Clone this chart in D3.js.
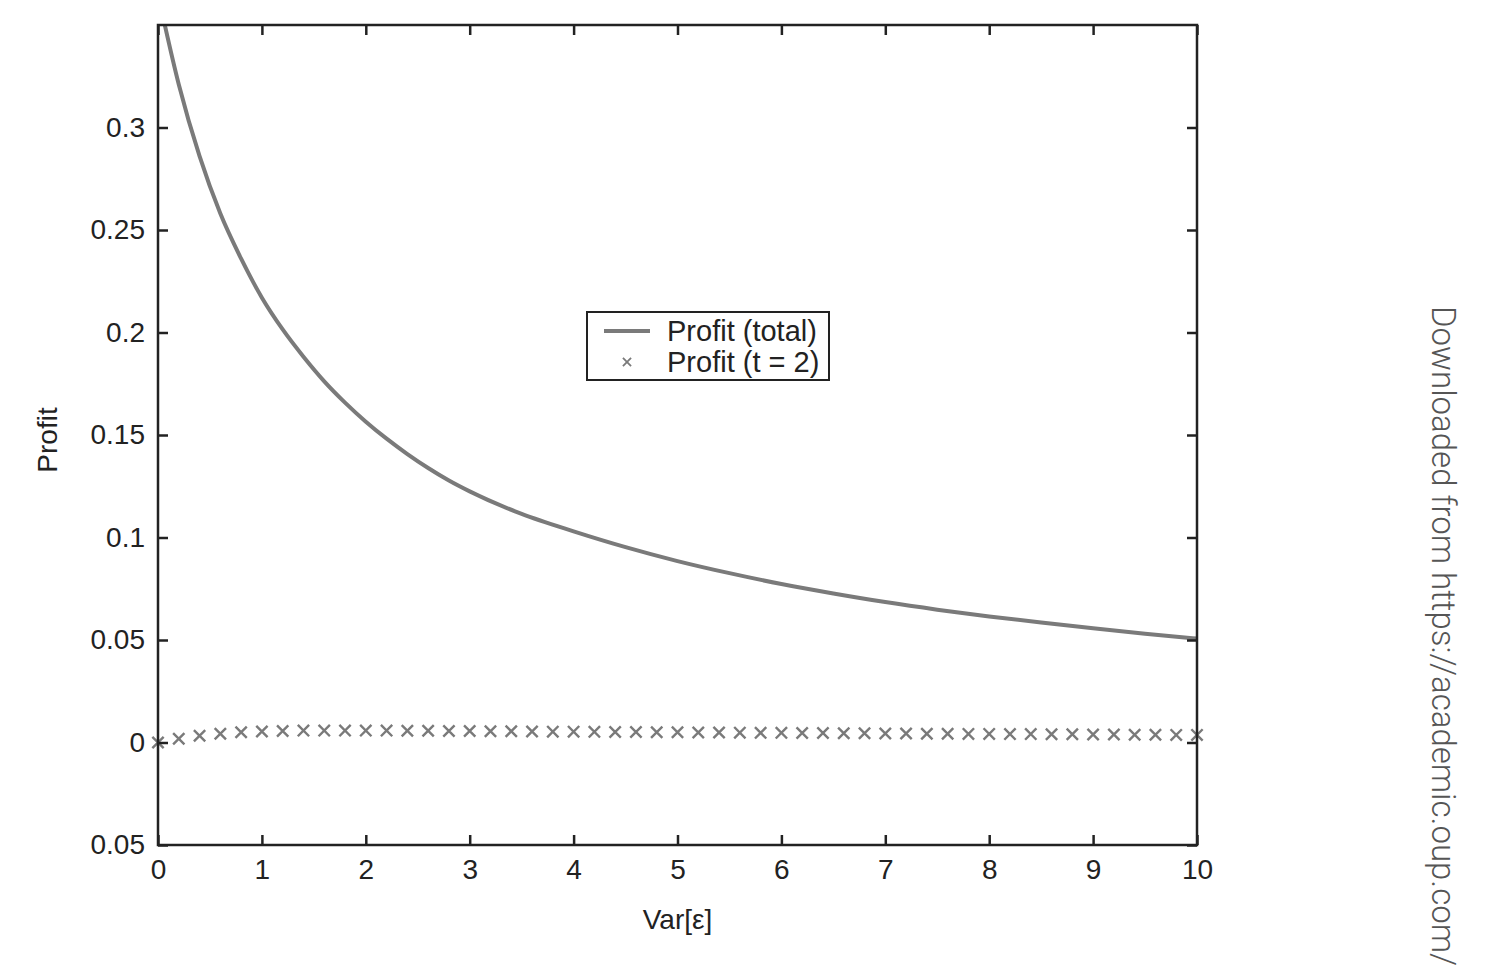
<!DOCTYPE html>
<html>
<head>
<meta charset="utf-8">
<script src="https://cdn.jsdelivr.net/npm/d3@7"></script>
<style>
  body { margin: 0; background: #fff; }
  svg { display: block; font-family: "Liberation Sans", Arial, sans-serif; }
</style>
</head>
<body>
<svg id="viz"></svg>
<script>
const width = 1493, height = 971;

// Profit (total) curve
const totalX = [0, 0.2, 0.4, 0.6, 0.8, 1.0, 1.2, 1.4, 1.6, 1.8, 2.0, 2.2, 2.4, 2.6, 2.8, 3.0,
                3.5, 4.0, 4.5, 5.0, 5.5, 6.0, 6.5, 7.0, 7.5, 8.0, 8.5, 9.0, 9.5, 10];
const totalY = [0.365, 0.321, 0.286, 0.258, 0.236, 0.217, 0.2015, 0.1882, 0.1762, 0.1658, 0.1565,
                0.1482, 0.1407, 0.1339, 0.1278, 0.1225, 0.1115, 0.1030, 0.0953, 0.0885, 0.0826,
                0.0773, 0.0727, 0.0685, 0.0648, 0.0615, 0.0585, 0.0557, 0.0531, 0.0507];

// Profit (t = 2) markers
const t2X = [0, 0.2, 0.4, 0.6, 0.8, 1.0, 1.2, 1.4, 1.6, 1.8, 2.0, 2.2, 2.4, 2.6, 2.8, 3.0,
             3.2, 3.4, 3.6, 3.8, 4.0, 4.2, 4.4, 4.6, 4.8, 5.0, 5.2, 5.4, 5.6, 5.8, 6.0,
             6.2, 6.4, 6.6, 6.8, 7.0, 7.2, 7.4, 7.6, 7.8, 8.0, 8.2, 8.4, 8.6, 8.8, 9.0,
             9.2, 9.4, 9.6, 9.8, 10];
const t2Y = [0, 0.0018, 0.0033, 0.0043, 0.005, 0.0054, 0.0056, 0.0058, 0.0058, 0.0058, 0.0058,
             0.0058, 0.0057, 0.0057, 0.0056, 0.0056, 0.0055, 0.0055, 0.0054, 0.0053, 0.0053,
             0.0052, 0.0051, 0.0051, 0.005, 0.005, 0.0049, 0.0049, 0.0048, 0.0047, 0.0047,
             0.0046, 0.0046, 0.0045, 0.0045, 0.0044, 0.0044, 0.0043, 0.0043, 0.0042, 0.0042,
             0.0041, 0.0041, 0.004, 0.004, 0.0039, 0.0039, 0.0038, 0.0038, 0.0037, 0.0037];

const xTicks = [0, 1, 2, 3, 4, 5, 6, 7, 8, 9, 10];
const yTicks = [-0.05, 0, 0.05, 0.1, 0.15, 0.2, 0.25, 0.3];
const yTickLabels = ["0.05", "0", "0.05", "0.1", "0.15", "0.2", "0.25", "0.3"];

const seriesNames = ["Profit (total)", "Profit (t = 2)"];

const margin = {left: 158, right: 1493 - 1197, top: 25, bottom: 971 - 845};
const grey = "#7a7a7a", ink = "#222";
const fontSize = "28px";

const svg = d3.select("#viz").attr("width", width).attr("height", height);

const x = d3.scaleLinear().domain([0, 10]).range([margin.left, width - margin.right]);
const y = d3.scaleLinear().domain([-0.05, 0.35]).range([height - margin.bottom, margin.top]);

svg.append("clipPath").attr("id", "clip")
  .append("rect")
  .attr("x", x(0)).attr("y", y(0.35))
  .attr("width", x(10) - x(0)).attr("height", y(-0.05) - y(0.35));

// curve
const total = totalX.map((d, i) => [d, totalY[i]]);
svg.append("path")
  .datum(total)
  .attr("clip-path", "url(#clip)")
  .attr("fill", "none")
  .attr("stroke", grey)
  .attr("stroke-width", 4)
  .attr("d", d3.line().x(d => x(d[0])).y(d => y(d[1])).curve(d3.curveMonotoneX));

// x markers
const cross = d3.symbol().type(d3.symbolX).size(85);
svg.append("g").selectAll("path")
  .data(t2X.map((d, i) => [d, t2Y[i]]))
  .join("path")
  .attr("d", cross)
  .attr("transform", d => "translate(" + x(d[0]) + "," + y(d[1]) + ")")
  .attr("fill", "none")
  .attr("stroke", grey)
  .attr("stroke-width", 2.4);

// axes, ticks pointing inward on all four sides
function styleAxis(g) {
  g.select(".domain").remove();
  g.selectAll(".tick line").attr("stroke", ink).attr("stroke-width", 2.5);
  g.selectAll(".tick text").attr("fill", ink).style("font-size", fontSize);
}

svg.append("g")
  .attr("transform", "translate(0," + y(-0.05) + ")")
  .call(d3.axisBottom(x).tickValues(xTicks).tickSize(-10).tickPadding(14).tickFormat(d3.format("d")))
  .call(styleAxis);

svg.append("g")
  .attr("transform", "translate(0," + y(0.35) + ")")
  .call(d3.axisTop(x).tickValues(xTicks).tickSize(-10).tickFormat(""))
  .call(styleAxis);

svg.append("g")
  .attr("transform", "translate(" + x(0) + ",0)")
  .call(d3.axisLeft(y).tickValues(yTicks).tickSize(-10).tickPadding(13)
    .tickFormat((d, i) => yTickLabels[i]))
  .call(styleAxis);

svg.append("g")
  .attr("transform", "translate(" + x(10) + ",0)")
  .call(d3.axisRight(y).tickValues(yTicks).tickSize(-10).tickFormat(""))
  .call(styleAxis);

svg.append("rect")
  .attr("x", x(0)).attr("y", y(0.35))
  .attr("width", x(10) - x(0)).attr("height", y(-0.05) - y(0.35))
  .attr("fill", "none").attr("stroke", ink).attr("stroke-width", 2.5);

// axis titles
svg.append("text")
  .attr("x", (x(0) + x(10)) / 2).attr("y", 929)
  .attr("text-anchor", "middle").attr("fill", ink)
  .style("font-size", fontSize)
  .text("Var[ε]");

svg.append("text")
  .attr("transform", "translate(57,440) rotate(-90)")
  .attr("text-anchor", "middle").attr("fill", ink)
  .style("font-size", fontSize)
  .text("Profit");

// legend
const legend = svg.append("g").attr("transform", "translate(587,312)");
legend.append("rect")
  .attr("width", 242).attr("height", 68)
  .attr("fill", "#fff").attr("stroke", ink).attr("stroke-width", 2);
legend.append("line")
  .attr("x1", 17).attr("x2", 63).attr("y1", 19).attr("y2", 19)
  .attr("stroke", grey).attr("stroke-width", 4);
legend.append("path")
  .attr("d", d3.symbol().type(d3.symbolX).size(45))
  .attr("transform", "translate(40,50)")
  .attr("fill", "none").attr("stroke", grey).attr("stroke-width", 1.8);
legend.selectAll("text.lab")
  .data(seriesNames)
  .join("text")
  .attr("class", "lab")
  .attr("x", 80).attr("y", (d, i) => 29 + i * 31)
  .attr("fill", ink).style("font-size", "29px")
  .text(d => d);

// side watermark
svg.append("text")
  .attr("transform", "translate(1432,306) rotate(90)")
  .attr("fill", "#555")
  .style("font-family", "Roboto, sans-serif")
  .style("font-weight", 300)
  .style("font-size", "33px")
  .text("Downloaded from https://academic.oup.com/");
</script>
</body>
</html>
